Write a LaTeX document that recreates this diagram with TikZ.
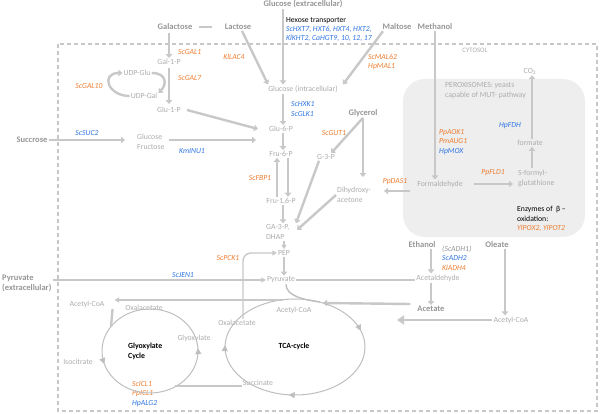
\documentclass[tikz,border=0pt]{standalone}
\usepackage{fontspec}
\setmainfont{Carlito}
\usetikzlibrary{arrows.meta,decorations.markings}
\definecolor{mgray}{RGB}{150,150,150}
\definecolor{lgray}{RGB}{172,172,172}
\definecolor{lline}{RGB}{200,200,200}
\definecolor{cgray}{RGB}{190,190,190}
\definecolor{enzor}{RGB}{237,125,49}
\definecolor{enzbl}{RGB}{47,117,225}
\definecolor{perox}{RGB}{238,238,238}

\begin{document}
\begin{tikzpicture}[x=1pt,y=-1pt,
  met/.style={text=lgray,inner sep=1pt,align=left,font=\fontsize{7.8}{10}\selectfont},
  src/.style={text=mgray,inner sep=1pt,align=left,font=\fontsize{8.5}{10}\selectfont\bfseries},
  ezo/.style={text=enzor,inner sep=1pt,align=left,font=\fontsize{7.7}{9.5}\selectfont\itshape},
  ezb/.style={text=enzbl,inner sep=1pt,align=left,font=\fontsize{7.7}{9.5}\selectfont\itshape},
  blk/.style={text=black,inner sep=1pt,align=left,font=\fontsize{7.7}{9.5}\selectfont},
  flow/.style={draw=lline,line width=2.4pt,-{Triangle[length=4pt,width=6.5pt]}},
  link/.style={draw=lline,line width=2.4pt},
  slim/.style={draw=lline,line width=1.4pt,-{Triangle[length=4.5pt,width=5pt]}},
  cyc/.style={draw=cgray,line width=1pt}]
\useasboundingbox (0,0) rectangle (600,414);
%\draw [very thin, gray] (0,0) grid (600,414);

\draw[lline,line width=1.6pt,dash pattern=on 4pt off 3pt] (58,44) rectangle (597,411);
\fill[perox,rounded corners=22pt] (403,79) rectangle (585,237);
\node[met,font=\fontsize{6.8}{8}\selectfont] (cyto) at (475,50) {CYTOSOL};
\node[met,anchor=west] (perotxt) at (444,91) {PEROXISOMES: yeasts\\capable of MUT- pathway};

\node[src] (glcex) at (303,4) {Glucose (extracellular)};
\node[src] (gal) at (175,27) {Galactose};
\node[src] (lac) at (238,27) {Lactose};
\node[src] (mal) at (397,27) {Maltose};
\node[src] (meoh) at (435,27) {Methanol};
\node[src] (glyc) at (363,113) {Glycerol};
\node[src] (suc) at (32,140) {Succrose};
\node[src,anchor=west] (pyrex) at (1,283) {Pyruvate\\(extracellular)};
\node[src] (etoh) at (422,245) {Ethanol};
\node[src] (olea) at (497,245) {Oleate};
\node[src] (acet) at (431,309) {Acetate};

\node[met] (glcin) at (303,89) {Glucose (intracellular)};
\node[met] (gal1p) at (169,62) {Gal-1-P};
\node[met] (glu1p) at (169,110) {Glu-1-P};
\node[met] (udpglu) at (137,73) {UDP-Glu};
\node[met] (udpgal) at (144,96) {UDP-Gal};
\node[met,anchor=west] (glcfru) at (136,142) {Glucose\\Fructose};
\node[met] (glu6p) at (281,129) {Glu-6-P};
\node[met] (fru6p) at (281,154) {Fru-6-P};
\node[met] (fbp) at (281,201) {Fru-1,6-P};
\node[met,anchor=west] (gap) at (265,232) {GA-3-P,\\DHAP};
\node[met] (pep) at (284,253) {PEP};
\node[met] (pyr) at (281,280) {Pyruvate};
\node[met] (g3p) at (326,157) {G-3-P};
\node[met,anchor=west] (dha) at (336,195) {Dihydroxy-\\acetone};
\node[met] (fald) at (440,184) {Formaldehyde};
\node[met,anchor=west] (sfg) at (517,178) {S-formyl-\\glutathione};
\node[met] (form) at (530,143) {formate};
\node[met] (co2) at (530,71) {CO\textsubscript{2}};
\node[met] (acald) at (438,278) {Acetaldehyde};
\node[met] (acoar) at (511,320) {Acetyl-CoA};
\node[met] (acoat) at (294,310) {Acetyl-CoA};
\node[met] (oaat) at (237,323) {Oxalacetate};
\node[met] (succ) at (258,383) {Succinate};
\node[met] (acoag) at (87,304) {Acetyl-CoA};
\node[met] (oaag) at (144,308) {Oxalacetate};
\node[met] (icit) at (78,362) {Isocitrate};
\node[met] (glyox) at (194,338) {Glyoxylate};
\node[blk,font=\fontsize{7.8}{10}\selectfont\bfseries,anchor=west] (glxtxt) at (127,351) {Glyoxylate\\Cycle};
\node[blk,font=\fontsize{7.8}{10}\selectfont\bfseries] (tcatxt) at (294,346) {TCA-cycle};

\node[blk,anchor=west,font=\fontsize{7.7}{9}\selectfont] (hxt) at (285,30) {Hexose transporter\\\textcolor{enzbl}{\itshape ScHXT7, HXT6, HXT4, HXT2,}\\\textcolor{enzbl}{\itshape KlKHT2, CaHGT9, 10, 12, 17}};
\node[ezo,anchor=west] (gal1) at (177,52) {ScGAL1};
\node[ezo,anchor=west] (gal7) at (177,78) {ScGAL7};
\node[ezo] (gal10) at (89,86) {ScGAL10};
\node[ezo] (lac4) at (234,57) {KlLAC4};
\node[ezo,anchor=west] (mal62) at (367,62) {ScMAL62\\HpMAL1};
\node[ezb,anchor=west] (hxk1) at (290,109) {ScHXK1\\ScGLK1};
\node[ezo] (fbp1) at (260,178) {ScFBP1};
\node[ezo] (gut1) at (334,133) {ScGUT1};
\node[ezb] (suc2) at (87,133) {ScSUC2};
\node[ezb] (inu1) at (192,151) {KmINU1};
\node[ezo] (pck1) at (228,258) {ScPCK1};
\node[ezb] (jen1) at (183,275) {ScJEN1};
\node[ezo,anchor=west] (aox) at (438,142) {PpAOK1\\PmAUG1\\\textcolor{enzbl}{HpMOX}};
\node[ezb] (fdh) at (510,126) {HpFDH};
\node[ezo] (fld1) at (493,173) {PpFLD1};
\node[ezo] (das1) at (395,182) {PpDAS1};
\node[blk,anchor=west] (betaox) at (516,219) {Enzymes of \ β –\\oxidation:\\\textcolor{enzor}{\itshape YlPOX2, YlPOT2}};
\node[ezb,anchor=west] (adh) at (441,258) {\textcolor{mgray}{(ScADH1)}\\ScADH2\\\textcolor{enzor}{KlADH4}};
\node[ezo,anchor=west] (icl) at (131,394) {ScICL1\\PpICL1\\\textcolor{enzbl}{HpALG2}};

% sugars
\draw[flow] ([xshift=-20pt]glcex.south) -- ([xshift=-20pt]glcin.north);
\draw[link,shorten <=12pt,shorten >=6pt] (lac.west) -- (gal.east);
\draw[flow,shorten <=2pt] (gal1p |- gal.south) -- (gal1p.north);
\draw[flow,shorten <=2pt,shorten >=2pt] (gal1p) -- (glu1p);
\draw[flow] (udpgal.west) .. controls +(-22,0) and +(-22,0) .. (udpglu.west);
\draw[flow] (udpglu.east) .. controls +(16,0) and +(8,-8) .. ([yshift=3pt]udpgal.east);
\draw[flow] ([xshift=4pt]lac.south) -- ([xshift=-35pt]glcin.north);
\draw[flow] ([xshift=-14pt]mal.south) -- ([xshift=40pt]glcin.north);
\draw[flow] (suc.east) -- ([xshift=-11pt]glcfru.west |- suc);
\draw[flow] ([xshift=3pt]glcfru.east |- suc) -- ([xshift=-12pt]glu6p.west |- suc);
\draw[flow] ([xshift=5pt]glu1p.east) -- ([xshift=-10pt]glu6p.west);

% glycolysis
\draw[flow] ([xshift=-20pt]glcin.south) -- ([xshift=2pt]glu6p.north);
\draw[flow] ([xshift=2pt]glu6p.south) -- ([xshift=2pt]fru6p.north);
\draw[flow] ([xshift=-4pt]fbp.north) -- ([xshift=-4pt]fru6p.south);
\draw[flow] ([xshift=7pt]fru6p.south) -- ([xshift=7pt]fbp.north);
\draw[flow] ([xshift=2pt]fbp.south) -- ([xshift=2pt]fbp.south |- gap.north);
\draw[slim] (pep.north |- gap.south) -- (pep.north);
\draw[flow] (pep.south) -- (pep.south |- pyr.north);
\draw[slim] (pyrex.east |- pyr) -- (pyr.west);
\draw[slim,rounded corners=8pt] ([xshift=6pt]oaat.north) |- (pep.west);

% glycerol
\draw[flow] (glyc.south) -- ([xshift=-5pt]g3p.north east);
\draw[flow,shorten >=9pt] (glyc.south) -- (glyc.south |- dha.north);
\draw[flow] ([xshift=-7pt]g3p.south) -- ([xshift=31pt]gap.north west);
\draw[flow] (dha.west) -- ([xshift=32pt,yshift=2pt]gap.west);

% methanol
\draw[flow] (meoh.south) -- (meoh.south |- fald.north);
\draw[flow] ([xshift=-6pt,yshift=-7pt]fald.west) -- ++(-26,0);
\draw[flow] ([xshift=10pt]fald.east) -- ([xshift=-4pt]sfg.west |- fald);
\draw[flow] ([xshift=15pt]sfg.north west) -- ([xshift=15pt]sfg.north west |- form.south);
\draw[flow] ([xshift=2pt]form.north) -- ([xshift=2pt]co2.south);

% ethanol, oleate
\draw[link] (pyr.east) -- (pyr.east -| acald.west);
\draw[flow] ([xshift=9pt]etoh.south) -- ([xshift=-7pt]acald.north);
\draw[flow] ([xshift=-7pt]acald.south) -- (acet.north);
\draw[flow] ([xshift=8pt]olea.south) -- ([xshift=-6pt]acoar.north);
\coordinate (tcaend) at (397,320);
\draw[draw=lline,line width=2.4pt,-{Triangle[length=7pt,width=9pt]}] (acoar.west) -- (tcaend);
\coordinate (tcatop) at (323,303);
\draw[flow] ([xshift=-6pt,yshift=5pt]acet.west) -- (tcatop);

% cycles
\draw[cyc,postaction={decorate},decoration={markings,
  mark=at position 0.267 with {\arrow{Triangle[length=6pt,width=6pt]}},
  mark=at position 0.505 with {\arrow{Triangle[length=6pt,width=6pt]}},
  mark=at position 0.955 with {\arrow{Triangle[length=6pt,width=6pt]}}}]
  (295,347) ellipse (70 and 48);
\draw[cyc,postaction={decorate},decoration={markings,
  mark=at position 0.453 with {\arrowreversed{Triangle[length=6pt,width=6pt]}},
  mark=at position 0.99 with {\arrowreversed{Triangle[length=6pt,width=6pt]}}}]
  (150,351) ellipse (48 and 42);
\draw[cyc,line width=1.4pt] ([xshift=5pt]pyr.south) .. controls +(0,12) and (305,300) .. (320,302);
\coordinate (tcaw) at (283,300);
\draw[slim] (tcaw) -- ([xshift=9pt]acoag.east |- tcaw);
\draw[link] ([xshift=7pt,yshift=-5pt]acoag.east) -- (111,327);
\draw[link] (175,386) -- (succ.west |- 0,386);
\end{tikzpicture}
\end{document}
